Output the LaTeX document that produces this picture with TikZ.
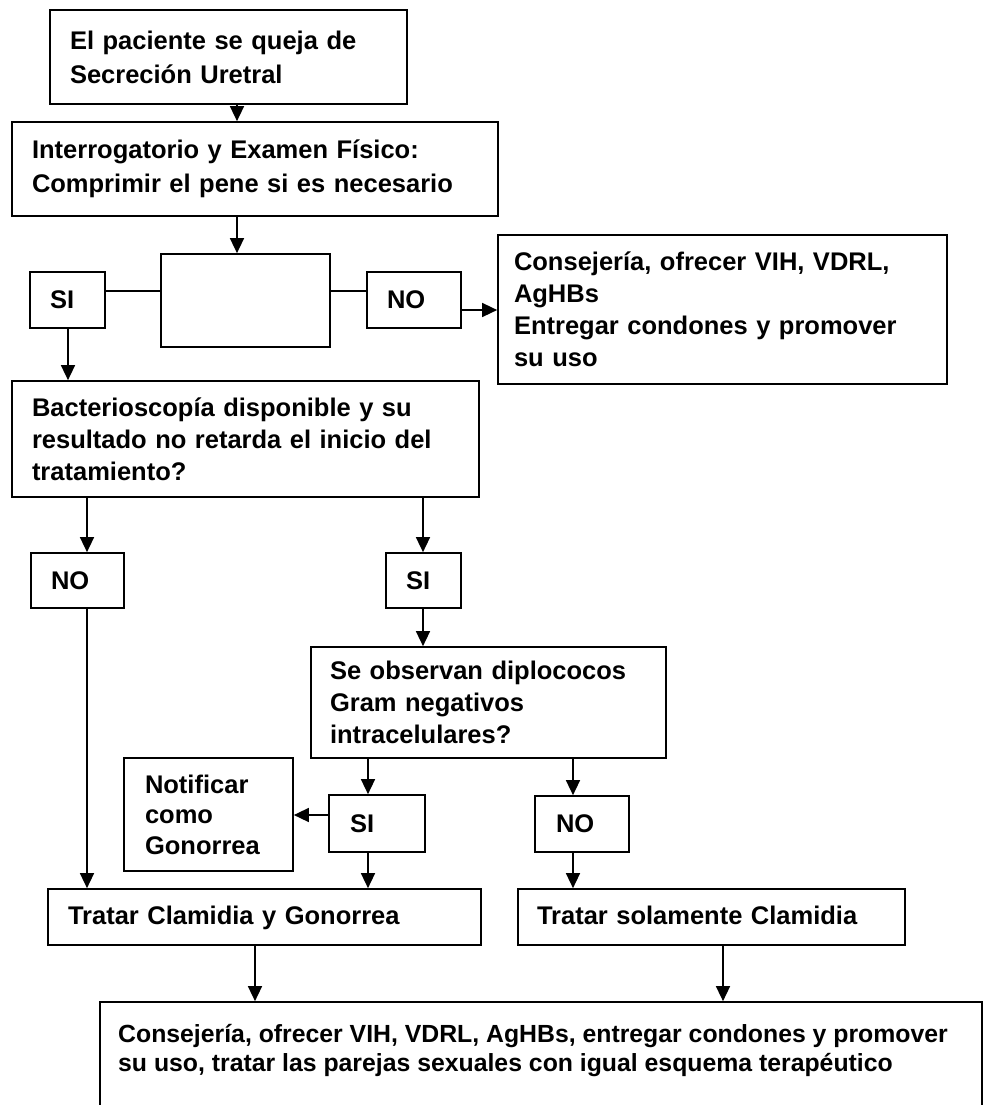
\documentclass[tikz,border=0pt]{standalone}
\usepackage{fontspec}
\setmainfont{Liberation Sans}
\usetikzlibrary{arrows.meta}
\begin{document}
\begin{tikzpicture}[x=1pt,y=-1pt,
  bx/.style={draw, line width=1.7pt, inner ysep=0pt, align=left, font=\bfseries\fontsize{25.5}{32}\selectfont},
  ln/.style={line width=1.5pt},
  arr/.style={line width=1.5pt, -{Triangle[length=15pt,width=14pt]}}]
\useasboundingbox (0,0) rectangle (986,1105);
% boxes
\node[bx, minimum width=357pt, minimum height=94pt, text width=317pt, inner xsep=20pt, font=\bfseries\fontsize{25.5}{34}\selectfont] (b1) at (228.5,57) {El paciente se queja de\\Secreción Uretral};
\node[bx, minimum width=486pt, minimum height=94pt, text width=446pt, inner xsep=20pt, font=\bfseries\fontsize{25.5}{34}\selectfont] (b2) at (255,169) {Interrogatorio y Examen Físico:\\Comprimir el pene si es necesario};
\node[bx, minimum width=169pt, minimum height=93pt] (mid) at (245.5,300.5) {};
\node[bx, minimum width=75pt, minimum height=56pt, text width=35pt, inner xsep=20pt] (si1) at (67.5,300) {SI};
\node[bx, minimum width=94pt, minimum height=56pt, text width=54pt, inner xsep=20pt] (no1) at (414,300) {NO};
\node[bx, minimum width=449pt, minimum height=149pt, text width=417pt, inner xsep=16pt] (cons1) at (722.5,309.5) {Consejería, ofrecer VIH, VDRL,\\AgHBs\\Entregar condones y promover\\su uso};
\node[bx, minimum width=467pt, minimum height=116pt, text width=427pt, inner xsep=20pt] (bact) at (245.5,439) {Bacterioscopía disponible y su\\resultado no retarda el inicio del\\tratamiento?};
\node[bx, minimum width=93pt, minimum height=55pt, text width=53pt, inner xsep=20pt] (no2) at (77.5,580.5) {NO};
\node[bx, minimum width=75pt, minimum height=55pt, text width=35pt, inner xsep=20pt] (si2) at (423.5,580.5) {SI};
\node[bx, minimum width=355pt, minimum height=111pt, text width=317pt, inner xsep=19pt] (obs) at (488.5,702.5) {Se observan diplococos\\Gram negativos\\intracelulares?};
\node[bx, minimum width=96pt, minimum height=57pt, text width=54pt, inner xsep=21pt] (si3) at (377,823.5) {SI};
\node[bx, minimum width=94pt, minimum height=56pt, text width=52pt, inner xsep=21pt] (no3) at (582,824) {NO};
\node[bx, minimum width=169pt, minimum height=113pt, text width=127pt, inner xsep=21pt, font=\bfseries\fontsize{25.5}{30.5}\selectfont] (notif) at (208.5,814.5) {Notificar\\como\\Gonorrea};
\node[bx, minimum width=433pt, minimum height=56pt, text width=393pt, inner xsep=20pt, text height=19pt, text depth=5pt] (trat1) at (264.5,917) {Tratar Clamidia y Gonorrea};
\node[bx, minimum width=387pt, minimum height=56pt, text width=349pt, inner xsep=19pt, text height=19pt, text depth=5pt] (trat2) at (711.5,917) {Tratar solamente Clamidia};
\node[bx, minimum width=882pt, minimum height=158pt] (fin) at (541,1081) {};
\node[anchor=north west, inner sep=0pt, align=left, font=\bfseries\fontsize{24.8}{29}\selectfont] (fintext) at (118,1024) {Consejería, ofrecer VIH, VDRL, AgHBs, entregar condones y promover\\su uso, tratar las parejas sexuales con igual esquema terapéutico};
% guide coordinates
\coordinate (c1) at (237,0);
\coordinate (c2) at (68,0);
\coordinate (c3) at (87,0);
\coordinate (c4) at (423,0);
\coordinate (c5) at (368,0);
\coordinate (c6) at (573,0);
\coordinate (c7) at (255,0);
\coordinate (c8) at (723,0);
\coordinate (r1) at (0,291);
\coordinate (r2) at (0,310);
\coordinate (r3) at (0,815);
% connectors
\draw[arr] (b1.south -| c1) -- (b2.north -| c1);
\draw[arr] (b2.south -| c1) -- (mid.north -| c1);
\draw[ln] (si1.east |- r1) -- (mid.west |- r1);
\draw[ln] (mid.east |- r1) -- (no1.west |- r1);
\draw[arr] (no1.east |- r2) -- (cons1.west |- r2);
\draw[arr] (si1.south -| c2) -- (bact.north -| c2);
\draw[arr] (bact.south -| c3) -- (no2.north -| c3);
\draw[arr] (bact.south -| c4) -- (si2.north -| c4);
\draw[arr] (no2.south -| c3) -- (trat1.north -| c3);
\draw[arr] (si2.south -| c4) -- (obs.north -| c4);
\draw[arr] (obs.south -| c5) -- (si3.north -| c5);
\draw[arr] (obs.south -| c6) -- (no3.north -| c6);
\draw[arr] (si3.west |- r3) -- (notif.east |- r3);
\draw[arr] (si3.south -| c5) -- (trat1.north -| c5);
\draw[arr] (no3.south -| c6) -- (trat2.north -| c6);
\draw[arr] (trat1.south -| c7) -- (fin.north -| c7);
\draw[arr] (trat2.south -| c8) -- (fin.north -| c8);
\end{tikzpicture}
\end{document}
